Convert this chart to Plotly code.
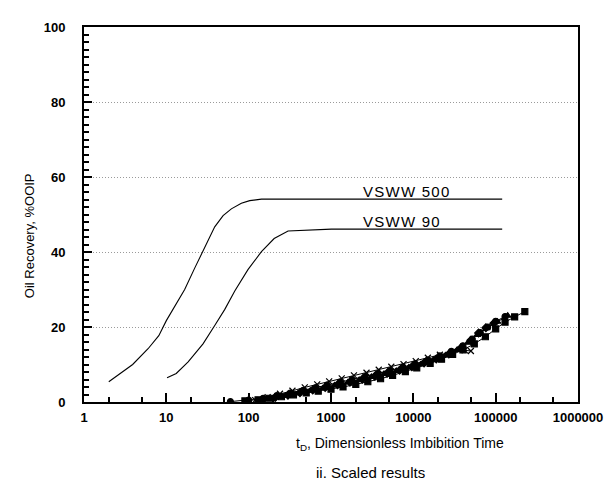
import plotly.graph_objects as go

# VSWW model curves (tD, recovery %OOIP)
vsww500_td = [2, 3.9, 6, 8.1, 10, 12.9, 16.7, 22.1, 29.3, 38.7, 48.9, 61.6, 81.5, 103, 143, 120000]
vsww500_r = [5.4, 10, 14.2, 17.7, 21.7, 25.8, 30, 35.7, 41.4, 46.7, 49.7, 51.5, 53, 53.7, 54.1, 54.1]

vsww90_td = [10.2, 13.2, 18.4, 27.9, 38.7, 51.3, 67.8, 98, 143, 204, 301, 1010, 120000]
vsww90_r = [6.5, 7.6, 10.7, 15.5, 20.4, 24.7, 29.6, 35.3, 40.1, 43.6, 45.6, 46.1, 46.1]

# experimental scaled results
sq_td = [90, 130, 180, 250, 350, 500, 700, 1000, 1400, 2000, 2800, 4000, 5600, 8000, 11000,
         16000, 22000, 30000, 40000, 55000, 75000, 100000, 130000, 170000, 226000]
sq_r = [0.3, 0.6, 1.0, 1.4, 1.9, 2.4, 2.9, 3.4, 4.0, 4.7, 5.4, 6.2, 7.1, 8.1, 9.1,
        10.3, 11.4, 12.7, 13.9, 15.5, 17.4, 19.5, 21.3, 22.7, 24.1]

ci_td = [60, 100, 150, 220, 320, 460, 650, 900, 1300, 1800, 2600, 3700, 5200, 7500, 10500,
         15000, 21000, 29000, 40000, 52000, 65000, 80000, 100000, 130000]
ci_r = [0.1, 0.5, 1.0, 1.7, 2.4, 3.1, 3.8, 4.5, 5.3, 6.0, 6.8, 7.6, 8.4, 9.3, 10.2,
        11.2, 12.3, 13.5, 15.0, 16.8, 18.5, 20.0, 21.5, 22.8]

x_td = [120, 170, 240, 340, 480, 680, 950, 1350, 1900, 2700, 3800, 5400, 7600, 10700,
        15000, 21000, 30000, 42000, 50000]
x_r = [0.5, 1.3, 2.2, 3.0, 3.9, 4.7, 5.5, 6.3, 7.1, 7.8, 8.6, 9.4, 10.1, 10.9,
       11.8, 12.6, 13.4, 13.8, 13.6]

di_td = [150, 210, 300, 420, 600, 850, 1200, 1700, 2400, 3400, 4800, 6800, 9600, 13500,
         19000, 27000, 38000, 50000, 62000, 76000, 95000]
di_r = [0.6, 1.2, 1.8, 2.5, 3.2, 3.9, 4.6, 5.3, 6.1, 6.9, 7.7, 8.5, 9.4, 10.4,
        11.5, 12.8, 14.5, 16.5, 18.4, 19.8, 21.0]

tr_td = [200, 280, 400, 560, 800, 1100, 1600, 2200, 3100, 4400, 6200, 8800, 12400, 17500,
         24500, 34000, 46000, 60000, 78000, 105000, 140000]
tr_r = [1.0, 1.6, 2.3, 3.0, 3.7, 4.4, 5.2, 5.9, 6.7, 7.5, 8.3, 9.2, 10.1, 11.2,
        12.4, 13.9, 15.8, 17.9, 19.7, 21.4, 23.0]

x_ticks = [1, 10, 100, 1000, 10000, 100000, 1000000]
y_ticks = [0, 20, 40, 60, 80, 100]

FONT = "Arial, 'Liberation Sans', sans-serif"
HS = "\u200a"  # hair space, to spread the curve labels a little

# plot area in pixels
L, R, T, B = 76, 570, 14, 394


def px_x(p):
    return (p - L) / (R - L)


def px_y(p):
    return (B - p) / (B - T)


fig = go.Figure()

for td, r in [(vsww500_td, vsww500_r), (vsww90_td, vsww90_r)]:
    fig.add_trace(go.Scatter(x=td, y=r, mode="lines",
                             line=dict(color="black", width=1.1), hoverinfo="skip"))

series = [
    (sq_td, sq_r, "square"),
    (ci_td, ci_r, "circle"),
    (x_td, x_r, "x-thin-open"),
    (di_td, di_r, "diamond"),
    (tr_td, tr_r, "triangle-up"),
]
for td, r, sym in series:
    fig.add_trace(go.Scatter(
        x=td, y=r, mode="lines+markers",
        line=dict(color="black", width=1),
        marker=dict(symbol=sym, size=6, color="black",
                    line=dict(color="black", width=1.2)),
    ))

for label, level in [("VSWW 500", 54.1), ("VSWW 90", 46.1)]:
    fig.add_annotation(x=3.36, y=level, xref="x", yref="y", text=HS.join(label),
                       showarrow=False, xanchor="left", yanchor="bottom", yshift=-3,
                       font=dict(size=15, color="black", family=FONT))

fig.add_annotation(x=px_x(392), y=px_y(437), xref="paper", yref="paper",
                   text="t<sub>D</sub>, Dimensionless Imbibition Time",
                   xanchor="center", yanchor="middle", showarrow=False,
                   font=dict(size=14, color="black", family=FONT))
fig.add_annotation(x=px_x(362), y=px_y(465), xref="paper", yref="paper",
                   text="ii. Scaled results",
                   xanchor="center", yanchor="middle", showarrow=False,
                   font=dict(size=15, color="black", family=FONT))
fig.add_annotation(x=px_x(21), y=px_y(226), xref="paper", yref="paper",
                   text="Oil Recovery, %OOIP", textangle=-90,
                   xanchor="center", yanchor="middle", showarrow=False,
                   font=dict(size=13, color="black", family=FONT))

fig.update_layout(
    width=612, height=480,
    paper_bgcolor="white", plot_bgcolor="white",
    margin=dict(l=L, r=612 - R, t=T, b=480 - B),
    showlegend=False,
    font=dict(family=FONT, color="black"),
)

fig.update_xaxes(
    type="log", range=[0, 6],
    tickvals=x_ticks, ticktext=[str(v) for v in x_ticks],
    tickfont=dict(size=13, weight="bold"),
    ticks="inside", ticklen=9, tickwidth=1.5, tickcolor="black",
    minor=dict(ticks="inside", ticklen=5, tickcolor="black", tickwidth=1.5, showgrid=False),
    showline=True, linecolor="black", linewidth=2, mirror=True,
    showgrid=False, zeroline=False, ticklabelstandoff=2,
)
fig.update_yaxes(
    range=[0, 100],
    tickvals=y_ticks,
    tickfont=dict(size=13, weight="bold"),
    ticks="inside", ticklen=8, tickwidth=1.5, tickcolor="black",
    minor=dict(tickmode="linear", tick0=0, dtick=2, ticks="inside", ticklen=5,
               tickcolor="black", tickwidth=1.5, showgrid=False),
    showline=True, linecolor="black", linewidth=2, mirror=True,
    showgrid=True, gridcolor="#9a9a9a", griddash="1px,2px", gridwidth=1,
    zeroline=False, ticklabelstandoff=14,
)

fig.write_html("out.html")
